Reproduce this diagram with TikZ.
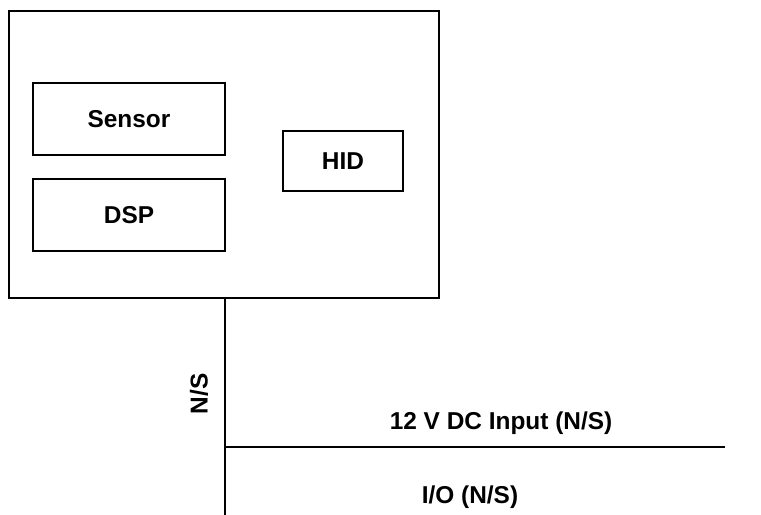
\documentclass[tikz,border=0pt]{standalone}
\usepackage{fontspec}
\setmainfont{Liberation Sans}
\usetikzlibrary{positioning}

\begin{document}
\begin{tikzpicture}[
    x=1bp, y=-1bp,
    node distance=24bp and 58bp,
    unitbox/.style={rectangle, draw, line width=1.8bp, outer sep=0pt, minimum width=430bp, minimum height=287bp},
    block/.style={rectangle, draw, line width=1.8bp, outer sep=0pt, minimum width=192bp, minimum height=72bp, font=\fontsize{24.5}{29}\selectfont\bfseries},
    smallblock/.style={block, minimum width=120bp, minimum height=60bp},
    wire/.style={line width=1.8bp},
    wirelabel/.style={font=\fontsize{24.5}{29}\selectfont\bfseries, inner sep=0pt}
]

\useasboundingbox (0,0) rectangle (761,515);

% Device enclosure
\node [unitbox] (unit) at (224,154.5) {};

% Internal blocks
\node [block] (sensor) at (129,119) {Sensor};
\node [block, below=of sensor] (dsp) {DSP};
\node [smallblock] (hid) at (343,161) {HID};

% Wiring
\coordinate (busend) at (225,515);
\coordinate (tap) at (225,447);
\coordinate (dcend) at (725,447);

\draw [wire] (unit.south -| busend) -- (busend);
\draw [wire] (tap) -- (dcend);

% Labels
\node [wirelabel, rotate=90] (nslabel) at (199,394) {N/S};
\node [wirelabel] (dclabel) at (501,423) {12 V DC Input (N/S)};
\node [wirelabel] (iolabel) at (470,497) {I/O (N/S)};

\end{tikzpicture}
\end{document}
